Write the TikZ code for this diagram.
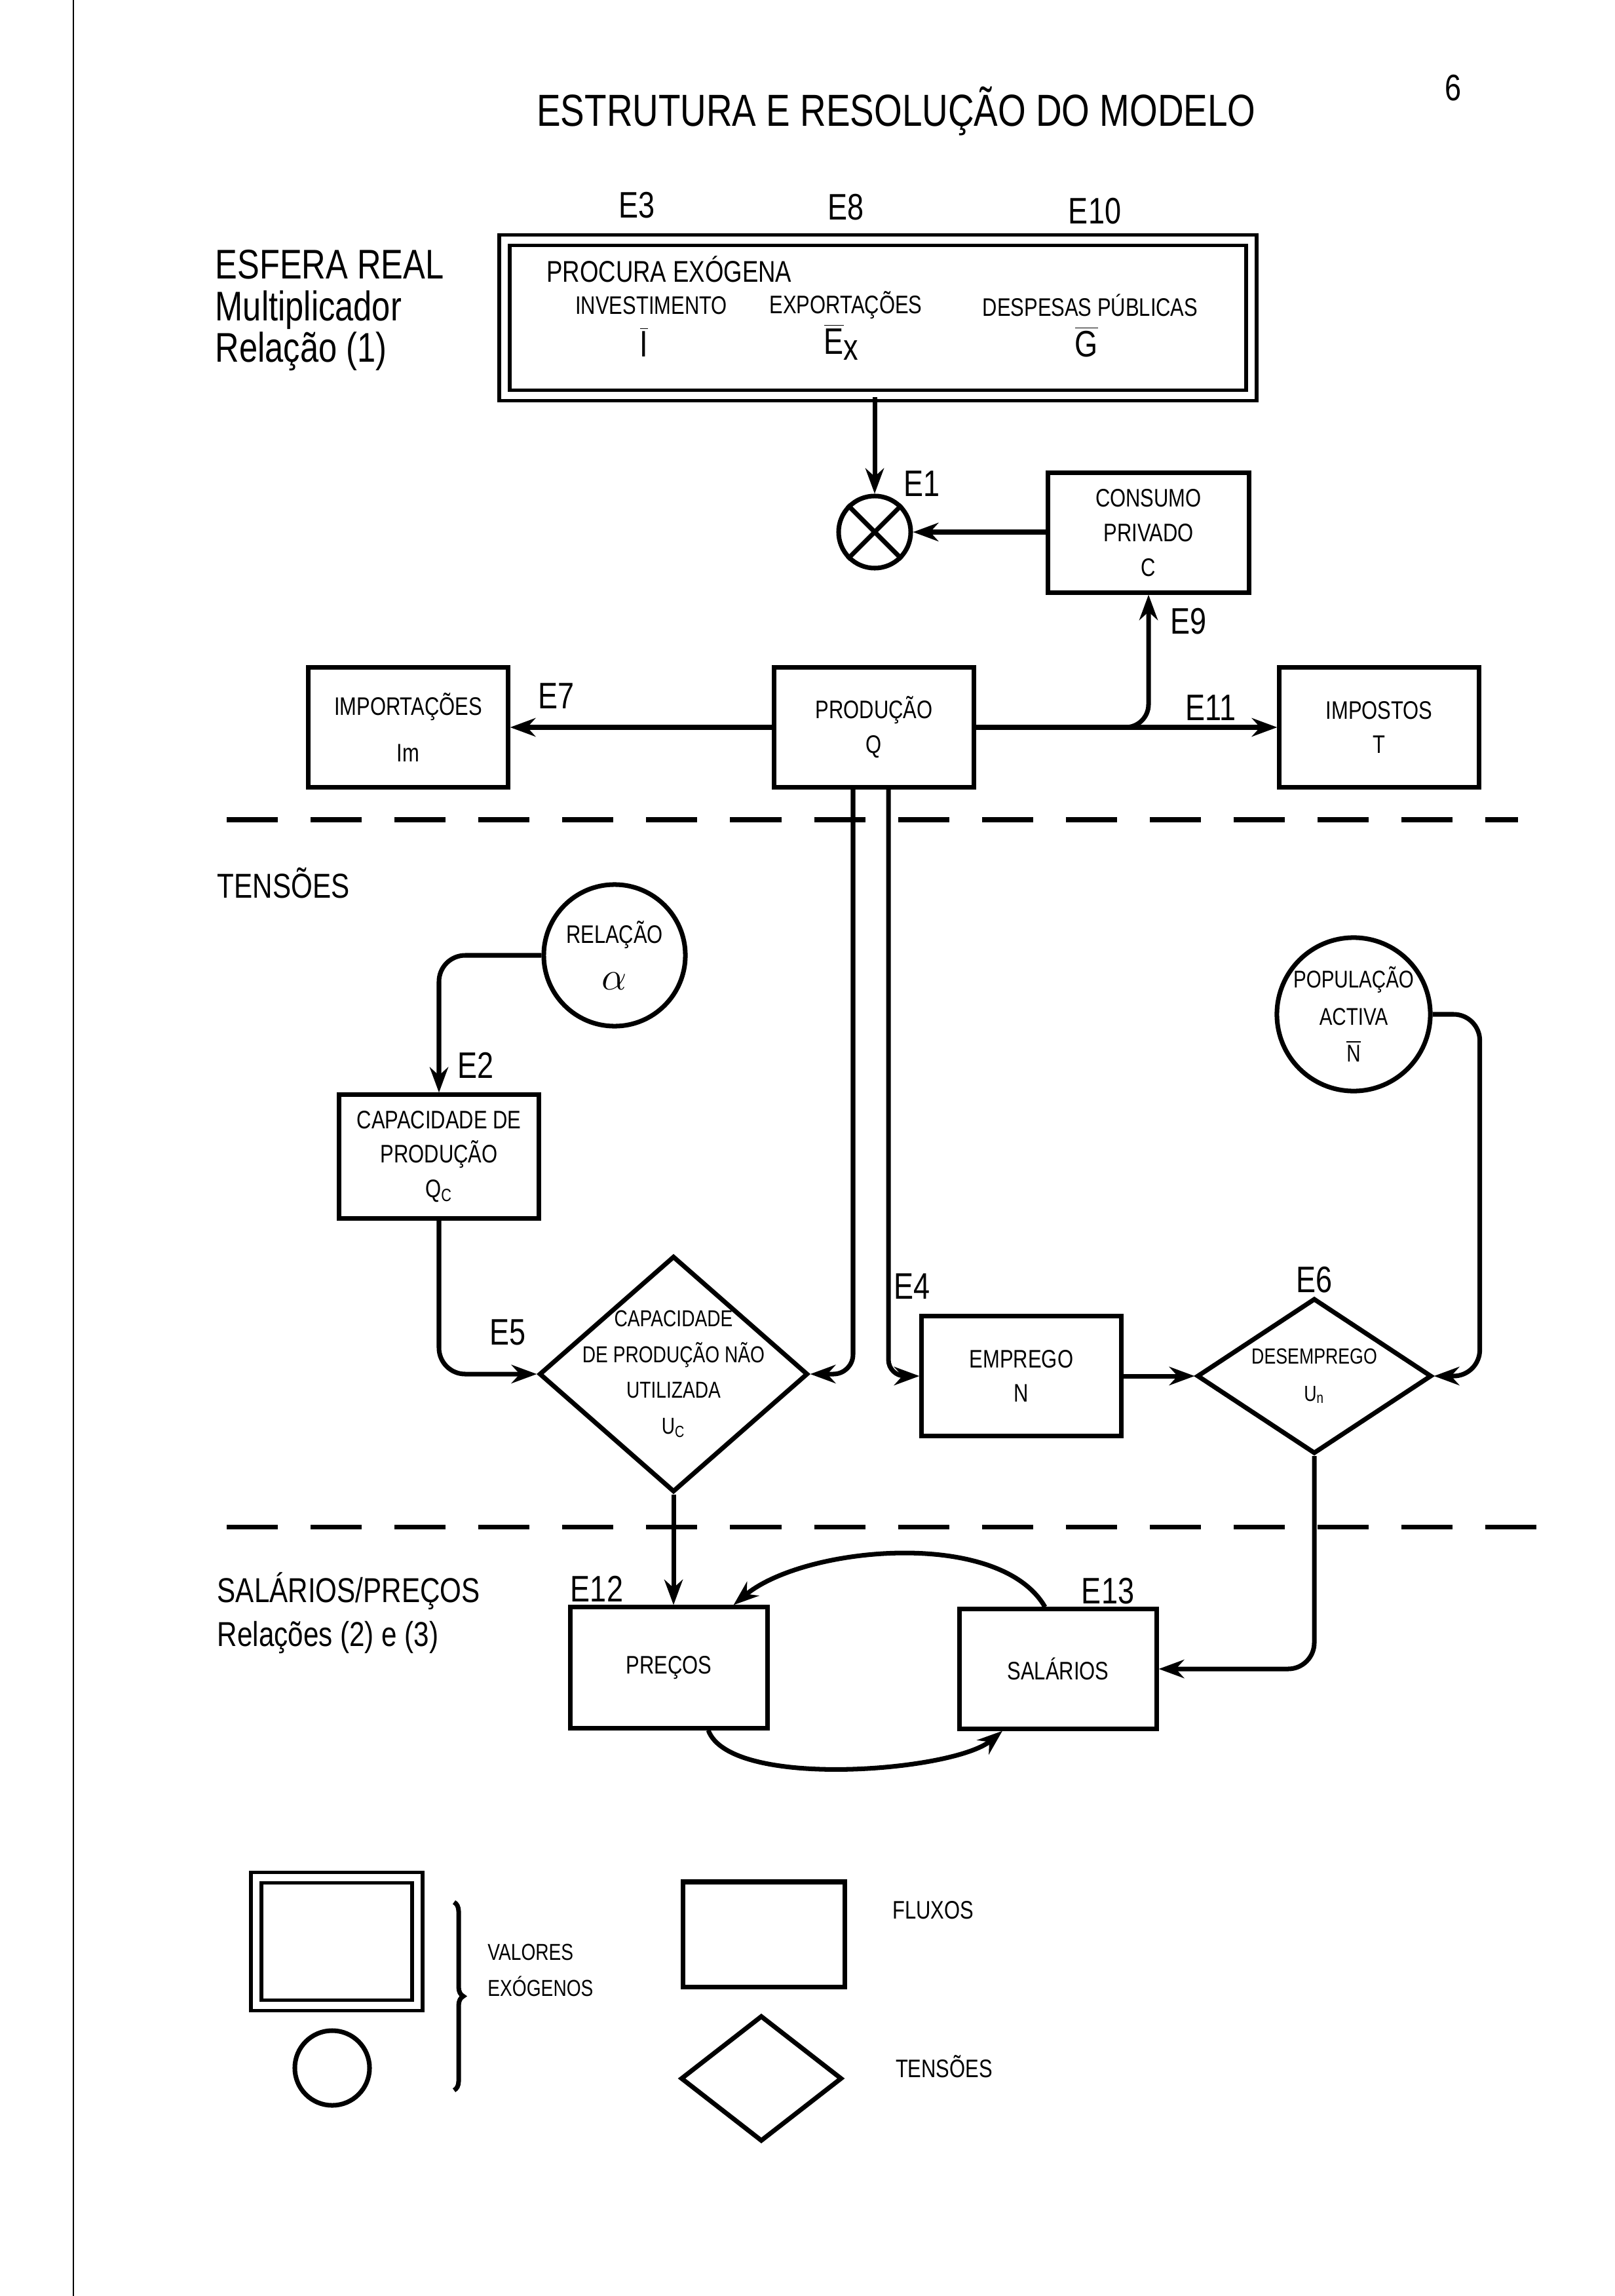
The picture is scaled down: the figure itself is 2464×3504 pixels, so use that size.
\documentclass[tikz,border=0pt]{standalone}
\usepackage{fontspec}
\setmainfont[FakeStretch=0.8]{Liberation Sans}
\usetikzlibrary{arrows.meta,shapes.geometric,decorations.pathreplacing}

\tikzset{
  fluxo/.style={draw, line width=2pt, minimum width=3.04cm, minimum height=1.82cm,
    align=center, font=\fontsize{11}{15}\selectfont},
  exogeno/.style={draw, line width=1.6pt, double, double distance=3pt},
  tensao/.style={draw, diamond, line width=2pt, inner sep=0pt},
  fixo/.style={draw, circle, line width=2pt, minimum size=2.16cm, inner sep=0pt,
    align=center, font=\fontsize{10.5}{16}\selectfont},
  seta/.style={line width=2pt, -{Stealth[length=11pt,width=8pt]}},
  eq/.style={font=\fontsize{16}{16}\selectfont},
  seccao/.style={inner sep=0pt, align=left, font=\fontsize{18}{18}\selectfont},
  corte/.style={line width=2pt, dash pattern=on 0.78cm off 0.5cm},
  miudo/.style={font=\fontsize{11}{15}\selectfont, align=center},
}

\begin{document}
\begin{tikzpicture}[x=0.01cm, y=-0.01cm]
  \useasboundingbox (0,0) rectangle (2464,3504);
  \draw[line width=0.8pt] (112,0) -- (112,3504);

  \node[anchor=base, font=\fontsize{19.5}{20}\selectfont] (titulo) at (1368,193) {ESTRUTURA E RESOLUÇÃO DO MODELO};
  \node[eq] (pagina) at (2218,134) {6};

  % esfera real
  \node[seccao, anchor=north west] (esfera) at (328,381) {ESFERA REAL\\Multiplicador\\Relação (1)};
  \node[eq] (e3) at (972,313) {E3};
  \node[eq] (e8) at (1291,316) {E8};
  \node[eq] (e10) at (1671,322) {E10};
  \node[exogeno, minimum width=11.39cm, minimum height=2.37cm] (procura) at (1340,485) {};
  \node[anchor=west, font=\fontsize{13}{13}\selectfont] (procuratit) at (822,411) {PROCURA EXÓGENA};
  \node[miudo] (invest) at (994,466) {INVESTIMENTO};
  \node[miudo] (export) at (1291,466) {EXPORTAÇÕES};
  \node[miudo] (despesa) at (1664,466) {DESPESAS PÚBLICAS};
  \node[eq] (ibar) at (983,522) {$\overline{\textrm{I}}$};
  \node[eq] (exbar) at (1285,522) {$\overline{\textrm{E}}_{\textrm{x}}$};
  \node[eq] (gbar) at (1658,522) {$\overline{\textrm{G}}$};

  \node[draw, circle, line width=2pt, minimum size=1.1cm] (mult) at (1335,812) {};
  \draw[line width=2pt] (mult.45) -- (mult.225) (mult.135) -- (mult.-45);
  \node[eq] (e1) at (1407,738) {E1};
  \node[fluxo, minimum width=3.06cm] (consumo) at (1753,813) {CONSUMO\\PRIVADO\\C};
  \node[eq] (e9) at (1814,948) {E9};

  \node[fluxo] (importa) at (623,1110) {IMPORTAÇÕES\\[5pt]Im};
  \node[fluxo] (producao) at (1334,1110) {PRODUÇÃO\\Q};
  \node[fluxo] (impostos) at (2105,1110) {IMPOSTOS\\T};
  \node[eq] (e7) at (849,1062) {E7};
  \node[eq] (e11) at (1848,1080) {E11};

  \draw[seta] (mult.north |- procura.south) -- (mult.north);
  \draw[seta] (consumo.west |- mult.east) -- (mult.east);
  \draw[seta] (producao.west) -- (importa.east);
  \draw[seta] (producao.east) -- (impostos.west);
  \draw[seta, rounded corners=0.35cm] (producao.east) -| (consumo.south);

  \draw[corte] (346,1251) -- (2317,1251);

  % tensoes
  \node[seccao, anchor=base west, font=\fontsize{15}{15}\selectfont] (tensoes) at (331,1370) {TENSÕES};
  \node[fixo, font=\fontsize{11}{20}\selectfont] (relalpha) at (938,1458) {RELAÇÃO\\{\fontsize{17}{17}\selectfont$\alpha$}};
  \node[fixo] (popact) at (2066,1548) {POPULAÇÃO\\ACTIVA\\$\overline{\textrm{N}}$};
  \node[fluxo, minimum height=1.88cm] (capac) at (670,1765) {CAPACIDADE DE\\PRODUÇÃO\\Q\textsubscript{C}};
  \node[eq] (e2) at (726,1626) {E2};
  \node[tensao, minimum width=4.1cm, minimum height=3.6cm,
    label={[miudo, font=\fontsize{10}{15.5}\selectfont]center:{CAPACIDADE\\DE PRODUÇÃO NÃO\\UTILIZADA\\U\textsubscript{C}}}] (folga) at (1028,2097) {};
  \node[eq] (e5) at (775,2033) {E5};
  \node[fluxo] (emprego) at (1559,2100) {EMPREGO\\N};
  \node[eq] (e4) at (1392,1963) {E4};
  \node[tensao, minimum width=3.58cm, minimum height=2.37cm,
    label={[miudo, font=\fontsize{9.5}{16}\selectfont]center:{DESEMPREGO\\U\textsubscript{n}}}] (desemp) at (2006,2100) {};
  \node[eq] (e6) at (2006,1953) {E6};

  \draw[seta, rounded corners=0.4cm] (relalpha.west) -| (capac.north);
  \draw[seta, rounded corners=0.4cm] (capac.south) |- (folga.west);
  \draw[seta, rounded corners=0.3cm] ([xshift=-0.32cm]producao.south) |- (folga.east);
  \draw[seta, rounded corners=0.25cm] ([xshift=0.22cm]producao.south) |- (emprego.west);
  \draw[seta] (emprego.east) -- (desemp.west);
  \draw[seta, rounded corners=0.4cm] (popact.east) -- ++(72,0) |- (desemp.east);

  \draw[corte] (346,2330) -- (2357,2330);

  % salarios / precos
  \node[seccao, anchor=base west, font=\fontsize{15}{19}\selectfont] (salprec) at (331,2512) {SALÁRIOS/PREÇOS\\Relações (2) e (3)};
  \node[fluxo, minimum width=3cm, minimum height=1.84cm] (precos) at (1021,2545) {PREÇOS};
  \node[fluxo, minimum width=3cm] (salarios) at (1615,2547) {SALÁRIOS};
  \node[eq] (e12) at (911,2425) {E12};
  \node[eq] (e13) at (1691,2428) {E13};

  \draw[seta] (folga.south) -- (folga.south |- precos.north);
  \draw[seta, rounded corners=0.4cm] (desemp.south) |- (salarios.east);
  \draw[seta] ([xshift=-0.2cm]salarios.north) to[out=120, in=40, looseness=0.75] ([xshift=-0.55cm]precos.north east);
  \draw[seta] ([xshift=0.6cm]precos.south) to[out=-70, in=-140, looseness=0.55] ([xshift=-0.85cm]salarios.south);

  % legenda
  \node[exogeno, minimum width=2.46cm, minimum height=1.95cm] (legexo) at (514,2963) {};
  \node[fixo, minimum size=1.14cm] (legcirc) at (507,3156) {};
  \draw[line width=2pt, decorate, decoration={brace, amplitude=4pt}] (693,2903) -- (693,3190);
  \node[miudo, anchor=west, align=left, font=\fontsize{10}{15.5}\selectfont] (valores) at (732,3007) {VALORES\\EXÓGENOS};
  \node[fluxo, minimum width=2.46cm, minimum height=1.6cm] (legflux) at (1166,2952) {};
  \node[miudo] (fluxos) at (1424,2915) {FLUXOS};
  \node[tensao, minimum width=2.46cm, minimum height=1.92cm] (legtens) at (1162,3172) {};
  \node[miudo] (tensleg) at (1441,3154) {TENSÕES};
\end{tikzpicture}
\end{document}
